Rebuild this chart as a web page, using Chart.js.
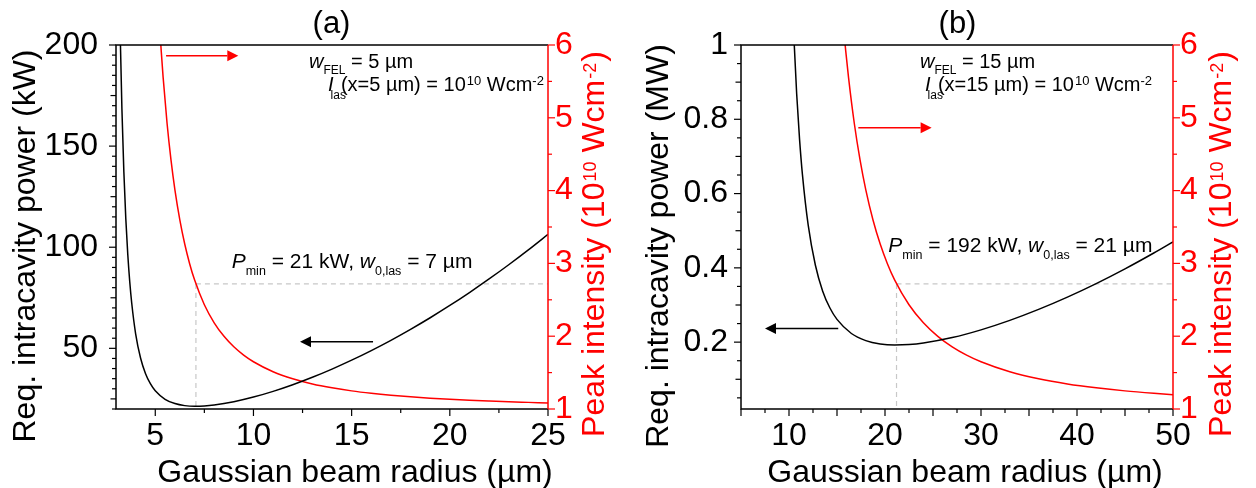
<!DOCTYPE html>
<html>
<head>
<meta charset="utf-8">
<script src="https://cdn.jsdelivr.net/npm/chart.js@4.4.1/dist/chart.umd.min.js"></script>
<style>
  html, body { margin: 0; padding: 0; background: #ffffff; }
  #wrap { position: relative; width: 1256px; height: 488px; overflow: hidden; background: #fff; }
  .pane { position: absolute; top: 0; width: 628px; height: 488px; }
  canvas { display: block; }
</style>
</head>
<body>
<div id="wrap">
  <div class="pane" style="left:0"><canvas id="chartA" width="628" height="488"></canvas></div>
  <div class="pane" style="left:628px"><canvas id="chartB" width="628" height="488"></canvas></div>
</div>
<script>
// ---------- panel (a): w_FEL = 5 um ----------
const radiusPowerA = [3.2, 3.3, 3.4, 3.5, 3.6, 3.7, 3.8, 4.0, 4.25, 4.5, 4.75, 5, 5.5, 6, 6.5, 7, 7.5, 8, 9, 10, 11, 12, 13, 14, 15, 16, 17, 18, 19, 20, 21, 22, 23, 24, 25];
const powerA = [212.3, 168.7, 137.3, 114.0, 96.4, 82.9, 72.4, 57.2, 45.2, 37.57, 32.5, 29.02, 24.81, 22.68, 21.67, 21.35, 21.49, 21.96, 23.59, 25.90, 28.73, 32.01, 35.69, 39.73, 44.14, 48.89, 53.97, 59.39, 65.13, 71.20, 77.59, 84.30, 91.33, 98.68, 106.35];
const radiusIntA = [5.2, 5.3, 5.4, 5.6, 5.8, 6, 6.25, 6.5, 6.75, 7, 7.5, 8, 8.5, 9, 9.5, 10, 11, 12, 13, 14, 15, 16, 17, 18, 19, 20, 21, 22, 23, 24, 25];
const intensityA = [6.354, 5.930, 5.555, 4.925, 4.421, 4.010, 3.597, 3.266, 2.996, 2.774, 2.432, 2.184, 1.998, 1.854, 1.740, 1.649, 1.512, 1.415, 1.344, 1.291, 1.249, 1.216, 1.189, 1.167, 1.149, 1.133, 1.120, 1.109, 1.099, 1.091, 1.083];
const optimumA = { radius: 7.07, intensity: 2.718 };
const xTicksA = [5, 10, 15, 20, 25];
const yTicksA = [50, 100, 150, 200];

// ---------- panel (b): w_FEL = 15 um ----------
const radiusPowerB = [10.35, 10.5, 10.8, 11.1, 11.4, 12, 12.75, 13.5, 14.25, 15, 16.5, 18, 19.5, 21, 22.5, 24, 27, 30, 33, 36, 39, 42, 45, 48, 50];
const powerB = [1.123, 1.026, 0.868, 0.746, 0.651, 0.515, 0.407, 0.338, 0.2925, 0.2612, 0.2233, 0.2041, 0.1950, 0.1922, 0.1934, 0.1976, 0.2123, 0.2331, 0.2586, 0.2881, 0.3212, 0.3576, 0.3973, 0.4400, 0.4701];
const radiusIntB = [15.6, 15.9, 16.2, 16.8, 17.4, 18, 18.75, 19.5, 20.25, 21, 22.5, 24, 25.5, 27, 28.5, 30, 33, 36, 39, 42, 45, 48, 50];
const intensityB = [6.354, 5.930, 5.555, 4.925, 4.421, 4.010, 3.597, 3.266, 2.996, 2.774, 2.432, 2.184, 1.998, 1.854, 1.740, 1.649, 1.512, 1.415, 1.344, 1.291, 1.249, 1.216, 1.197];
const optimumB = { radius: 21.2, intensity: 2.718 };
const xTicksB = [10, 20, 30, 40, 50];
const yTicksB = [0.2, 0.4, 0.6, 0.8, 1];

// shared right axis
const intensityTicks = [1, 2, 3, 4, 5, 6];

const FONT = '"Liberation Sans", Arial, Helvetica, sans-serif';
const RED = '#ff0000';
const BLACK = '#000000';
const DASH = '#c8c8c8';

Chart.defaults.font.family = FONT;

function fnt(size, italic) { return (italic ? 'italic ' : '') + size + 'px ' + FONT; }

// rich text: array of [text, {z: size, i: italic, dy: shift, dx: gap before}]
function runsWidth(ctx, runs) {
  let w = 0;
  for (const [t, o] of runs) { ctx.font = fnt(o.z, o.i); w += (o.dx || 0) + ctx.measureText(t).width; }
  return w;
}
function drawRuns(ctx, runs, x, y, color) {
  ctx.fillStyle = color;
  ctx.textBaseline = 'alphabetic';
  ctx.textAlign = 'left';
  let cx = x;
  for (const [t, o] of runs) {
    ctx.font = fnt(o.z, o.i);
    cx += (o.dx || 0);
    ctx.fillText(t, cx, y + (o.dy || 0));
    cx += ctx.measureText(t).width;
  }
}
function drawRotated(ctx, runs, xBase, yCenter, color) {
  ctx.save();
  ctx.translate(xBase, yCenter);
  ctx.rotate(-Math.PI / 2);
  const w = runsWidth(ctx, runs);
  drawRuns(ctx, runs, -w / 2, 0, color);
  ctx.restore();
}
function drawArrow(ctx, x0, y0, x1, y1, color) {
  const len = 11, half = 5.5;
  const ang = Math.atan2(y1 - y0, x1 - x0);
  const bx = x1 - len * Math.cos(ang), by = y1 - len * Math.sin(ang);
  ctx.save();
  ctx.strokeStyle = color; ctx.fillStyle = color; ctx.lineWidth = 1.5;
  ctx.beginPath(); ctx.moveTo(x0, y0); ctx.lineTo(bx, by); ctx.stroke();
  ctx.beginPath();
  ctx.moveTo(x1, y1);
  ctx.lineTo(bx + half * Math.sin(ang), by - half * Math.cos(ang));
  ctx.lineTo(bx - half * Math.sin(ang), by + half * Math.cos(ang));
  ctx.closePath(); ctx.fill();
  ctx.restore();
}

// tick marks drawn outward from each axis, major / medium / minor
function tickMarks(ctx, scale, side, steps, color) {
  const eps = 1e-9;
  const lo = scale.min, hi = scale.max;
  const area = scale.chart.chartArea;
  ctx.save();
  ctx.strokeStyle = color; ctx.lineWidth = 1.2;
  const start = Math.ceil((lo - eps) / steps.minor) * steps.minor;
  for (let v = start; v <= hi + eps; v += steps.minor) {
    const isMajor = Math.abs(v / steps.major - Math.round(v / steps.major)) < 1e-6;
    const isMid = steps.mid && Math.abs(v / steps.mid - Math.round(v / steps.mid)) < 1e-6;
    const len = isMajor ? 7 : (isMid ? steps.midLen : 4);
    const p = scale.getPixelForValue(v);
    ctx.beginPath();
    if (side === 'left') { ctx.moveTo(area.left, p); ctx.lineTo(area.left - len, p); }
    else if (side === 'right') { ctx.moveTo(area.right, p); ctx.lineTo(area.right + len, p); }
    else { ctx.moveTo(p, area.bottom); ctx.lineTo(p, area.bottom + len); }
    ctx.stroke();
  }
  ctx.restore();
}

function makeChart(canvasId, p) {
  const decor = {
    id: 'decor' + canvasId,
    afterDraw(chart) {
      const ctx = chart.ctx;
      const a = chart.chartArea;
      const sx = chart.scales.x, sy = chart.scales.y, sr = chart.scales.yR;
      // frame
      ctx.save();
      ctx.lineWidth = 1.5;
      ctx.strokeStyle = BLACK;
      ctx.beginPath();
      ctx.moveTo(a.right, a.top); ctx.lineTo(a.left, a.top); ctx.lineTo(a.left, a.bottom); ctx.lineTo(a.right, a.bottom);
      ctx.stroke();
      ctx.strokeStyle = RED;
      ctx.beginPath(); ctx.moveTo(a.right, a.top); ctx.lineTo(a.right, a.bottom); ctx.stroke();
      ctx.restore();
      tickMarks(ctx, sx, 'bottom', p.xSteps, BLACK);
      tickMarks(ctx, sy, 'left', p.ySteps, BLACK);
      tickMarks(ctx, sr, 'right', { major: 1, minor: 0.5 }, RED);

      // arrows pointing to the axis each curve belongs to
      for (const ar of p.arrows) {
        const sc = ar.axis === 'yR' ? sr : sy;
        drawArrow(ctx, sx.getPixelForValue(ar.from), sc.getPixelForValue(ar.y),
                  sx.getPixelForValue(ar.to), sc.getPixelForValue(ar.y), ar.color);
      }

      // axis titles
      const axisTitle = [['Gaussian beam radius (\u00b5m)', { z: 32 }]];
      const wx = runsWidth(ctx, axisTitle);
      drawRuns(ctx, axisTitle, p.xTitle.cx - wx / 2, p.xTitle.base, BLACK);
      drawRotated(ctx, [[p.yTitle.text, { z: 32 }]], p.yTitle.base, p.yTitle.cy, BLACK);
      drawRotated(ctx, [
        ['Peak intensity (10', { z: 32 }],
        ['10', { z: 18, dy: -8, dx: 1 }],
        [' Wcm', { z: 32 }],
        ['-2', { z: 18, dy: -8, dx: 1 }],
        [')', { z: 32, dx: 1 }]
      ], p.rTitle.base, p.rTitle.cy, RED);

      // panel label
      ctx.font = fnt(31);
      ctx.fillStyle = BLACK; ctx.textAlign = 'center'; ctx.textBaseline = 'alphabetic';
      ctx.fillText(p.label, p.labelX, 33);

      // notes
      for (const n of p.notes) drawRuns(ctx, n.runs, n.x, n.y, BLACK);
    }
  };

  const datasets = [
    { label: 'power', data: p.powerX.map((x, i) => ({ x, y: p.powerY[i] })), yAxisID: 'y',
      borderColor: BLACK, borderWidth: 1.5, pointRadius: 0, cubicInterpolationMode: 'monotone', order: 0 },
    { label: 'intensity', data: p.intX.map((x, i) => ({ x, y: p.intY[i] })), yAxisID: 'yR',
      borderColor: RED, borderWidth: 1.5, pointRadius: 0, cubicInterpolationMode: 'monotone', order: 0 },
    { label: 'opt-h', data: [{ x: p.opt.radius, y: p.opt.intensity }, { x: p.xMax, y: p.opt.intensity }], yAxisID: 'yR',
      borderColor: DASH, borderWidth: 1.2, borderDash: [5, 4], pointRadius: 0, order: 2 },
    { label: 'opt-v', data: [{ x: p.opt.radius, y: p.opt.intensity }, { x: p.opt.radius, y: 1 }], yAxisID: 'yR',
      borderColor: DASH, borderWidth: 1.2, borderDash: [5, 4], pointRadius: 0, order: 2 }
  ];

  return new Chart(document.getElementById(canvasId), {
    type: 'line',
    data: { datasets },
    plugins: [decor],
    options: {
      responsive: false,
      animation: false,
      devicePixelRatio: 1,
      layout: { padding: { top: 45, left: 0, right: 0, bottom: 0 } },
      plugins: { legend: { display: false }, tooltip: { enabled: false } },
      scales: {
        x: {
          type: 'linear', position: 'bottom', min: p.xMin, max: p.xMax,
          grid: { display: false, drawTicks: false }, border: { display: false },
          ticks: { color: BLACK, font: { size: 32 }, padding: 8, maxRotation: 0, autoSkip: false,
                   callback: v => String(v) },
          afterBuildTicks: s => { s.ticks = p.xTicks.map(v => ({ value: v })); },
          afterFit: s => { s.height = 79; }
        },
        y: {
          type: 'linear', position: 'left', min: p.yMin, max: p.yMax,
          grid: { display: false, drawTicks: false }, border: { display: false },
          ticks: { color: BLACK, font: { size: 32 }, padding: p.yPad, autoSkip: false,
                   callback: v => String(+v.toFixed(3)) },
          afterBuildTicks: s => { s.ticks = p.yTicks.map(v => ({ value: v })); },
          afterFit: s => { s.width = p.leftW; }
        },
        yR: {
          type: 'linear', position: 'right', min: 1, max: 6,
          grid: { display: false, drawTicks: false }, border: { display: false },
          ticks: { color: RED, font: { size: 32 }, padding: 7, autoSkip: false, callback: v => String(v) },
          afterBuildTicks: s => { s.ticks = intensityTicks.map(v => ({ value: v })); },
          afterFit: s => { s.width = 628 - p.rightEdge; }
        }
      }
    }
  });
}

makeChart('chartA', {
  label: '(a)', labelX: 331.5,
  powerX: radiusPowerA, powerY: powerA, intX: radiusIntA, intY: intensityA, opt: optimumA,
  xMin: 3, xMax: 25, xTicks: xTicksA, xSteps: { major: 5, minor: 2.5 },
  yMin: 20, yMax: 200, yTicks: yTicksA, ySteps: { major: 50, mid: 25, midLen: 5.5, minor: 5 },
  yPad: 18, leftW: 116, rightEdge: 548,
  xTitle: { cx: 355, base: 482 },
  yTitle: { text: 'Req. intracavity power (kW)', base: 35, cy: 246 },
  rTitle: { base: 603.5, cy: 244 },
  arrows: [
    { from: 5.55, to: 9.23, y: 5.853, axis: 'yR', color: RED },
    { from: 16.09, to: 12.37, y: 53.3, axis: 'y', color: BLACK }
  ],
  notes: [
    { x: 309, y: 68, runs: [['w', { z: 20, i: true }], ['FEL', { z: 12, dy: 6 }], [' = 5 \u00b5m', { z: 20 }]] },
    { x: 328, y: 91, runs: [['I', { z: 20, i: true }], ['las', { z: 12, dy: 8, dx: -3 }], ['(x=5 \u00b5m) = 10', { z: 20, dx: -5 }],
                            ['10', { z: 13, dy: -6, dx: 1 }], [' Wcm', { z: 20 }], ['-2', { z: 13, dy: -6 }]] },
    { x: 231.7, y: 268.3, runs: [['P', { z: 21, i: true }], ['min', { z: 12.5, dy: 7 }], [' = 21 kW, ', { z: 21 }],
                                 ['w', { z: 21, i: true }], ['0,las', { z: 12.5, dy: 7 }], [' = 7 \u00b5m', { z: 21 }]] }
  ]
});

makeChart('chartB', {
  label: '(b)', labelX: 329.5,
  powerX: radiusPowerB, powerY: powerB, intX: radiusIntB, intY: intensityB, opt: optimumB,
  xMin: 5, xMax: 50, xTicks: xTicksB, xSteps: { major: 5, minor: 2.5 },
  yMin: 0.02, yMax: 1, yTicks: yTicksB, ySteps: { major: 0.2, mid: 0.1, midLen: 5.5, minor: 0.05 },
  yPad: 13, leftW: 113, rightEdge: 545,
  xTitle: { cx: 337, base: 482 },
  yTitle: { text: 'Req. intracavity power (MW)', base: 40.3, cy: 246 },
  rTitle: { base: 602.5, cy: 244 },
  arrows: [
    { from: 17.22, to: 24.86, y: 4.864, axis: 'yR', color: RED },
    { from: 15.13, to: 7.5, y: 0.237, axis: 'y', color: BLACK }
  ],
  notes: [
    { x: 292, y: 68, runs: [['w', { z: 20, i: true }], ['FEL', { z: 12, dy: 6 }], [' = 15 \u00b5m', { z: 20 }]] },
    { x: 297, y: 91, runs: [['I', { z: 20, i: true }], ['las', { z: 12, dy: 8, dx: -3 }], ['(x=15 \u00b5m) = 10', { z: 20, dx: -5 }],
                            ['10', { z: 13, dy: -6, dx: 1 }], [' Wcm', { z: 20 }], ['-2', { z: 13, dy: -6 }]] },
    { x: 260.3, y: 251.7, runs: [['P', { z: 21, i: true }], ['min', { z: 12.5, dy: 7 }], [' = 192 kW, ', { z: 21 }],
                                 ['w', { z: 21, i: true }], ['0,las', { z: 12.5, dy: 7 }], [' = 21 \u00b5m', { z: 21 }]] }
  ]
});
</script>
</body>
</html>
